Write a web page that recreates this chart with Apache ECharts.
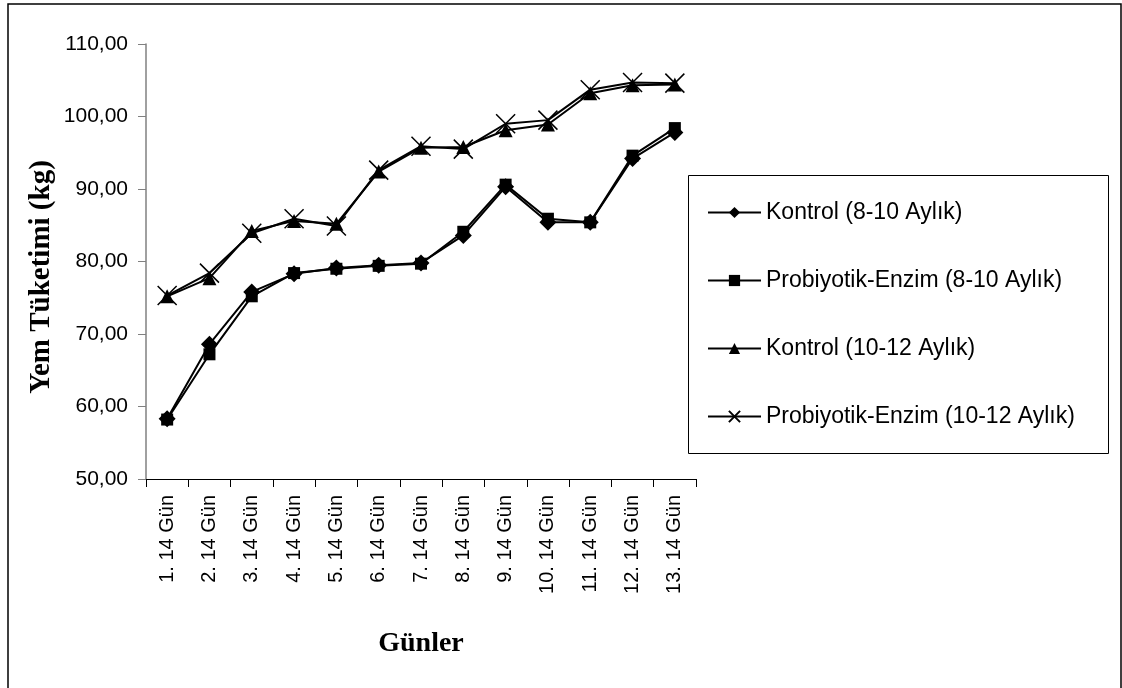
<!DOCTYPE html>
<html>
<head>
<meta charset="utf-8">
<script src="https://cdn.jsdelivr.net/npm/echarts@6/dist/echarts.min.js"></script>
<style>
html,body{margin:0;padding:0;background:#fff;}
#chart{width:1122px;height:688px;}
</style>
</head>
<body>
<div id="chart"></div>
<script>
const categories = ['1. 14 Gün','2. 14 Gün','3. 14 Gün','4. 14 Gün','5. 14 Gün','6. 14 Gün','7. 14 Gün','8. 14 Gün','9. 14 Gün','10. 14 Gün','11. 14 Gün','12. 14 Gün','13. 14 Gün'];
const kontrol810 = [58.3, 68.6, 75.8, 78.3, 79.1, 79.5, 79.8, 83.6, 90.3, 85.4, 85.4, 94.2, 97.8];
const probiyotik810 = [58.2, 67.2, 75.2, 78.4, 79.0, 79.4, 79.7, 84.1, 90.6, 85.9, 85.4, 94.6, 98.4];
const kontrol1012 = [75.2, 77.7, 84.2, 85.6, 85.2, 92.4, 95.7, 95.8, 98.1, 98.9, 103.2, 104.3, 104.4];
const probiyotik1012 = [75.3, 78.4, 83.9, 85.9, 84.9, 92.6, 95.9, 95.5, 99.0, 99.5, 103.7, 104.7, 104.6];
const seriesNames = ['Kontrol (8-10 Aylık)','Probiyotik-Enzim (8-10 Aylık)','Kontrol (10-12 Aylık)','Probiyotik-Enzim (10-12 Aylık)'];
const yTicks = {min: 50, max: 110, interval: 10};
const yTitle = 'Yem Tüketimi (kg)';
const xTitle = 'Günler';

const chart = echarts.init(document.getElementById('chart'));
const sans = '"Liberation Sans", Arial, sans-serif';
const serif = '"Liberation Serif", "Times New Roman", serif';

function mk(name, data, symbol, size, extra) {
  return Object.assign({
    name: name, type: 'line', data: data,
    symbol: symbol, symbolSize: size,
    lineStyle: {color: '#000', width: 2},
    itemStyle: {color: '#000'},
    emphasis: {disabled: true},
    animation: false
  }, extra || {});
}

const xPath = 'path://M0,0L20,20M20,0L0,20';

chart.setOption({
  backgroundColor: '#fff',
  animation: false,
  grid: {left: 146, top: 44, right: 426, bottom: 209, containLabel: false},
  xAxis: {
    type: 'category', data: categories, boundaryGap: true,
    axisLine: {lineStyle: {color: '#000', width: 1}},
    axisTick: {show: true, length: 8, lineStyle: {color: '#000'}},
    axisLabel: {rotate: 90, margin: 16, fontSize: 20, fontFamily: sans, color: '#000'},
    name: xTitle, nameLocation: 'middle', nameGap: 151,
    nameTextStyle: {fontFamily: serif, fontWeight: 'bold', fontSize: 28, color: '#000'}
  },
  yAxis: {
    type: 'value', min: yTicks.min, max: yTicks.max, interval: yTicks.interval,
    axisLine: {show: true, lineStyle: {color: '#808080', width: 1.5}},
    axisTick: {show: true, length: 8, lineStyle: {color: '#808080'}},
    splitLine: {show: false},
    axisLabel: {margin: 18, fontSize: 21, fontFamily: sans, color: '#000',
      formatter: v => v.toFixed(2).replace('.', ',')}
  },
  legend: {
    orient: 'vertical', left: 702, top: 196,
    itemWidth: 53, itemHeight: 14, itemGap: 45,
    textStyle: {fontSize: 23, fontFamily: sans, color: '#000'},
    data: seriesNames
  },
  graphic: [
    {type: 'text', x: 42, y: 277, rotation: Math.PI / 2,
     style: {text: yTitle, font: 'bold 29px ' + serif, fill: '#000', align: 'center', verticalAlign: 'middle'}, silent: true},
    {type: 'rect', shape: {x: 688.5, y: 175.5, width: 420, height: 278}, style: {fill: 'none', stroke: '#000', lineWidth: 1}, silent: true},
    {type: 'rect', shape: {x: 8, y: 4, width: 1113, height: 720}, style: {fill: 'none', stroke: '#000', lineWidth: 1.5}, silent: true}
  ],
  series: [
    mk(seriesNames[0], kontrol810, 'diamond', 17),
    mk(seriesNames[1], probiyotik810, 'rect', 12),
    mk(seriesNames[2], kontrol1012, 'triangle', 14),
    mk(seriesNames[3], probiyotik1012, xPath, 19, {itemStyle: {color: 'none', borderColor: '#000', borderWidth: 1.5}})
  ]
});
</script>
</body>
</html>
